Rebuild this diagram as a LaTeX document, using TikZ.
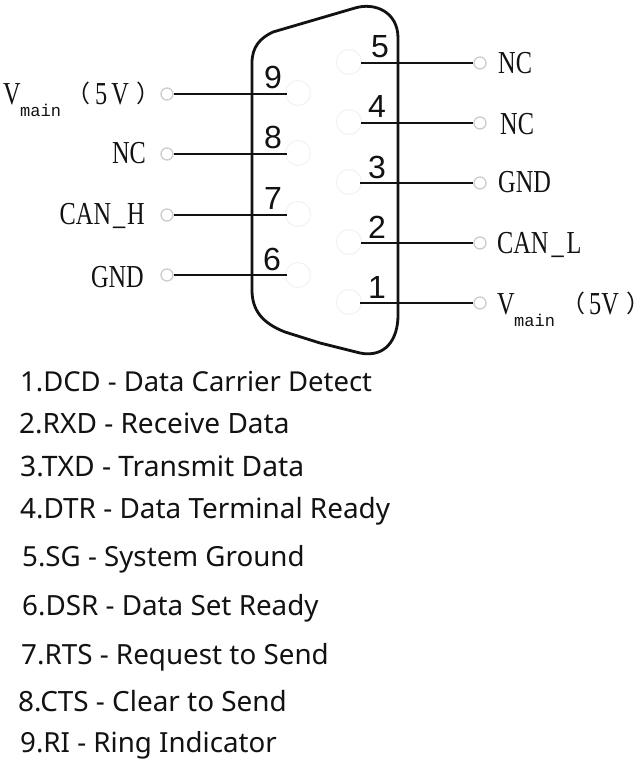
\documentclass[tikz,border=0pt]{standalone}
\usepackage{fontspec}
\setmainfont{Noto Sans}
\newfontfamily\pinfont{Liberation Serif}[FakeStretch=0.76]
\newfontfamily\subfont{Liberation Mono}
\newfontfamily\numfont{Liberation Sans}
\newfontfamily\cjkfont{Noto Sans CJK SC}[RawFeature={+palt}]
\definecolor{ink}{RGB}{18,18,18}
\definecolor{ghost}{RGB}{242,242,242}
\definecolor{term}{RGB}{205,205,205}
\tikzset{
 x=1pt,y=-1pt,
 wire/.style={draw=ink,line width=1.8pt},
 shell/.style={draw=ink,line width=2.8pt,line join=round},
 ghostpin/.style={circle,draw=ghost,line width=1pt,minimum size=25pt,inner sep=0pt},
 termpin/.style={circle,draw=term,line width=1.3pt,fill=white,minimum size=12pt,inner sep=0pt},
 numlab/.style={font=\numfont\fontsize{32}{32}\selectfont,text=ink,inner sep=0pt,anchor=base},
 pinlab/.style={font=\pinfont\fontsize{32}{32}\selectfont,text=ink,inner sep=0pt,anchor=base west},
 sublab/.style={font=\subfont\fontsize{17}{17}\selectfont,text=ink,inner sep=0pt,anchor=base west},
 parlab/.style={font=\cjkfont\fontsize{24}{24}\selectfont,text=ink,inner sep=0pt,anchor=base west},
 legend/.style={font=\fontsize{#1}{#1}\selectfont,text=ink,inner sep=0pt,anchor=base west},
}
\begin{document}
\begin{tikzpicture}
\useasboundingbox (0,0) rectangle (640,763);
\fill[white] (0,0) rectangle (640,763);
% ghost circles
\foreach \n/\x/\y in {g9/298/93,g8/298/153,g7/298/214,g6/298/275,g5/349/62,g4/349/122,g3/349/182,g2/349/242,g1/349/302}
  \node[ghostpin] (\n) at (\x,\y) {};
% shell
\draw[shell] (252,63) .. controls (252,47) and (260,38) .. (273,32)
  -- (355,8) .. controls (375,2) and (398,12) .. (398,38)
  -- (398,315) .. controls (398,340) and (385,358) .. (360,353)
  -- (320,343) -- (285,332) .. controls (262,323) and (252,310) .. (252,290) -- cycle;
% terminals
\foreach \n/\y in {t9/94,t8/154,t7/215,t6/275}
  \node[termpin] (\n) at (167,\y) {};
\foreach \n/\y in {t5/63,t4/123,t3/183,t2/243,t1/303}
  \node[termpin] (\n) at (480,\y) {};
% wire ends at pins
\foreach \n/\x/\y in {e9/287/94,e8/287/154,e7/287/215,e6/287/275,e5/361/63,e4/361/123,e3/360/183,e2/361/243,e1/360/303}
  \coordinate (\n) at (\x,\y);
\foreach \i in {6,7,8,9} \draw[wire] (t\i.east) -- (e\i);
\foreach \i in {1,2,3,4,5} \draw[wire] (e\i) -- (t\i.west);
% numbers
\foreach \n/\t/\x/\y in {n9/9/273/88,n8/8/273/148,n7/7/273/209,n6/6/272/270,n5/5/380/57,n4/4/377/117,n3/3/377/178,n2/2/377/238,n1/1/377/298}
  \node[numlab] (\n) at (\x,\y) {\t};
% left labels
\node[pinlab] (vl) at (3,104) {V};
\node[sublab] (vls) at (20,116) {main};
\node[parlab] (lpl) at (77,102) {（};
\node[pinlab] (vl5) at (95,104) {5\kern4pt V};
\node[parlab] (rpl) at (137,102) {）};
\node[pinlab,anchor=base east] (l8) at (146,163) {NC};
\node[pinlab,anchor=base east] (l7) at (145,224) {CAN\kern2pt\_\kern2pt H};
\node[pinlab,anchor=base east] (l6) at (144,287) {GND};
% right labels
\node[pinlab] (r5) at (498,73) {NC};
\node[pinlab] (r4) at (500,134) {NC};
\node[pinlab] (r3) at (498,192) {GND};
\node[pinlab] (r2) at (497,253) {CAN\kern3pt\_\kern3pt L};
\node[pinlab] (r1) at (497,314) {V};
\node[sublab] (r1s) at (514,326) {main};
\node[parlab] (lpr) at (572,312) {（};
\node[pinlab] (vr5) at (589,314) {5V};
\node[parlab] (rpr) at (627,312) {）};
% legend
\node[legend=27.45] (a1) at (20,391) {1.DCD - Data Carrier Detect};
\node[legend=28] (a2) at (19,433) {2.RXD - Receive Data};
\node[legend=28.2] (a3) at (20,476) {3.TXD - Transmit Data};
\node[legend=27.9] (a4) at (20,518) {4.DTR - Data Terminal Ready};
\node[legend=27.7] (a5) at (22,566) {5.SG - System Ground};
\node[legend=27.8] (a6) at (22,615) {6.DSR - Data Set Ready};
\node[legend=27.8] (a7) at (21,664) {7.RTS - Request to Send};
\node[legend=27.9] (a8) at (18,711) {8.CTS - Clear to Send};
\node[legend=27.7] (a9) at (20,752) {9.RI - Ring Indicator};
\end{tikzpicture}
\end{document}
